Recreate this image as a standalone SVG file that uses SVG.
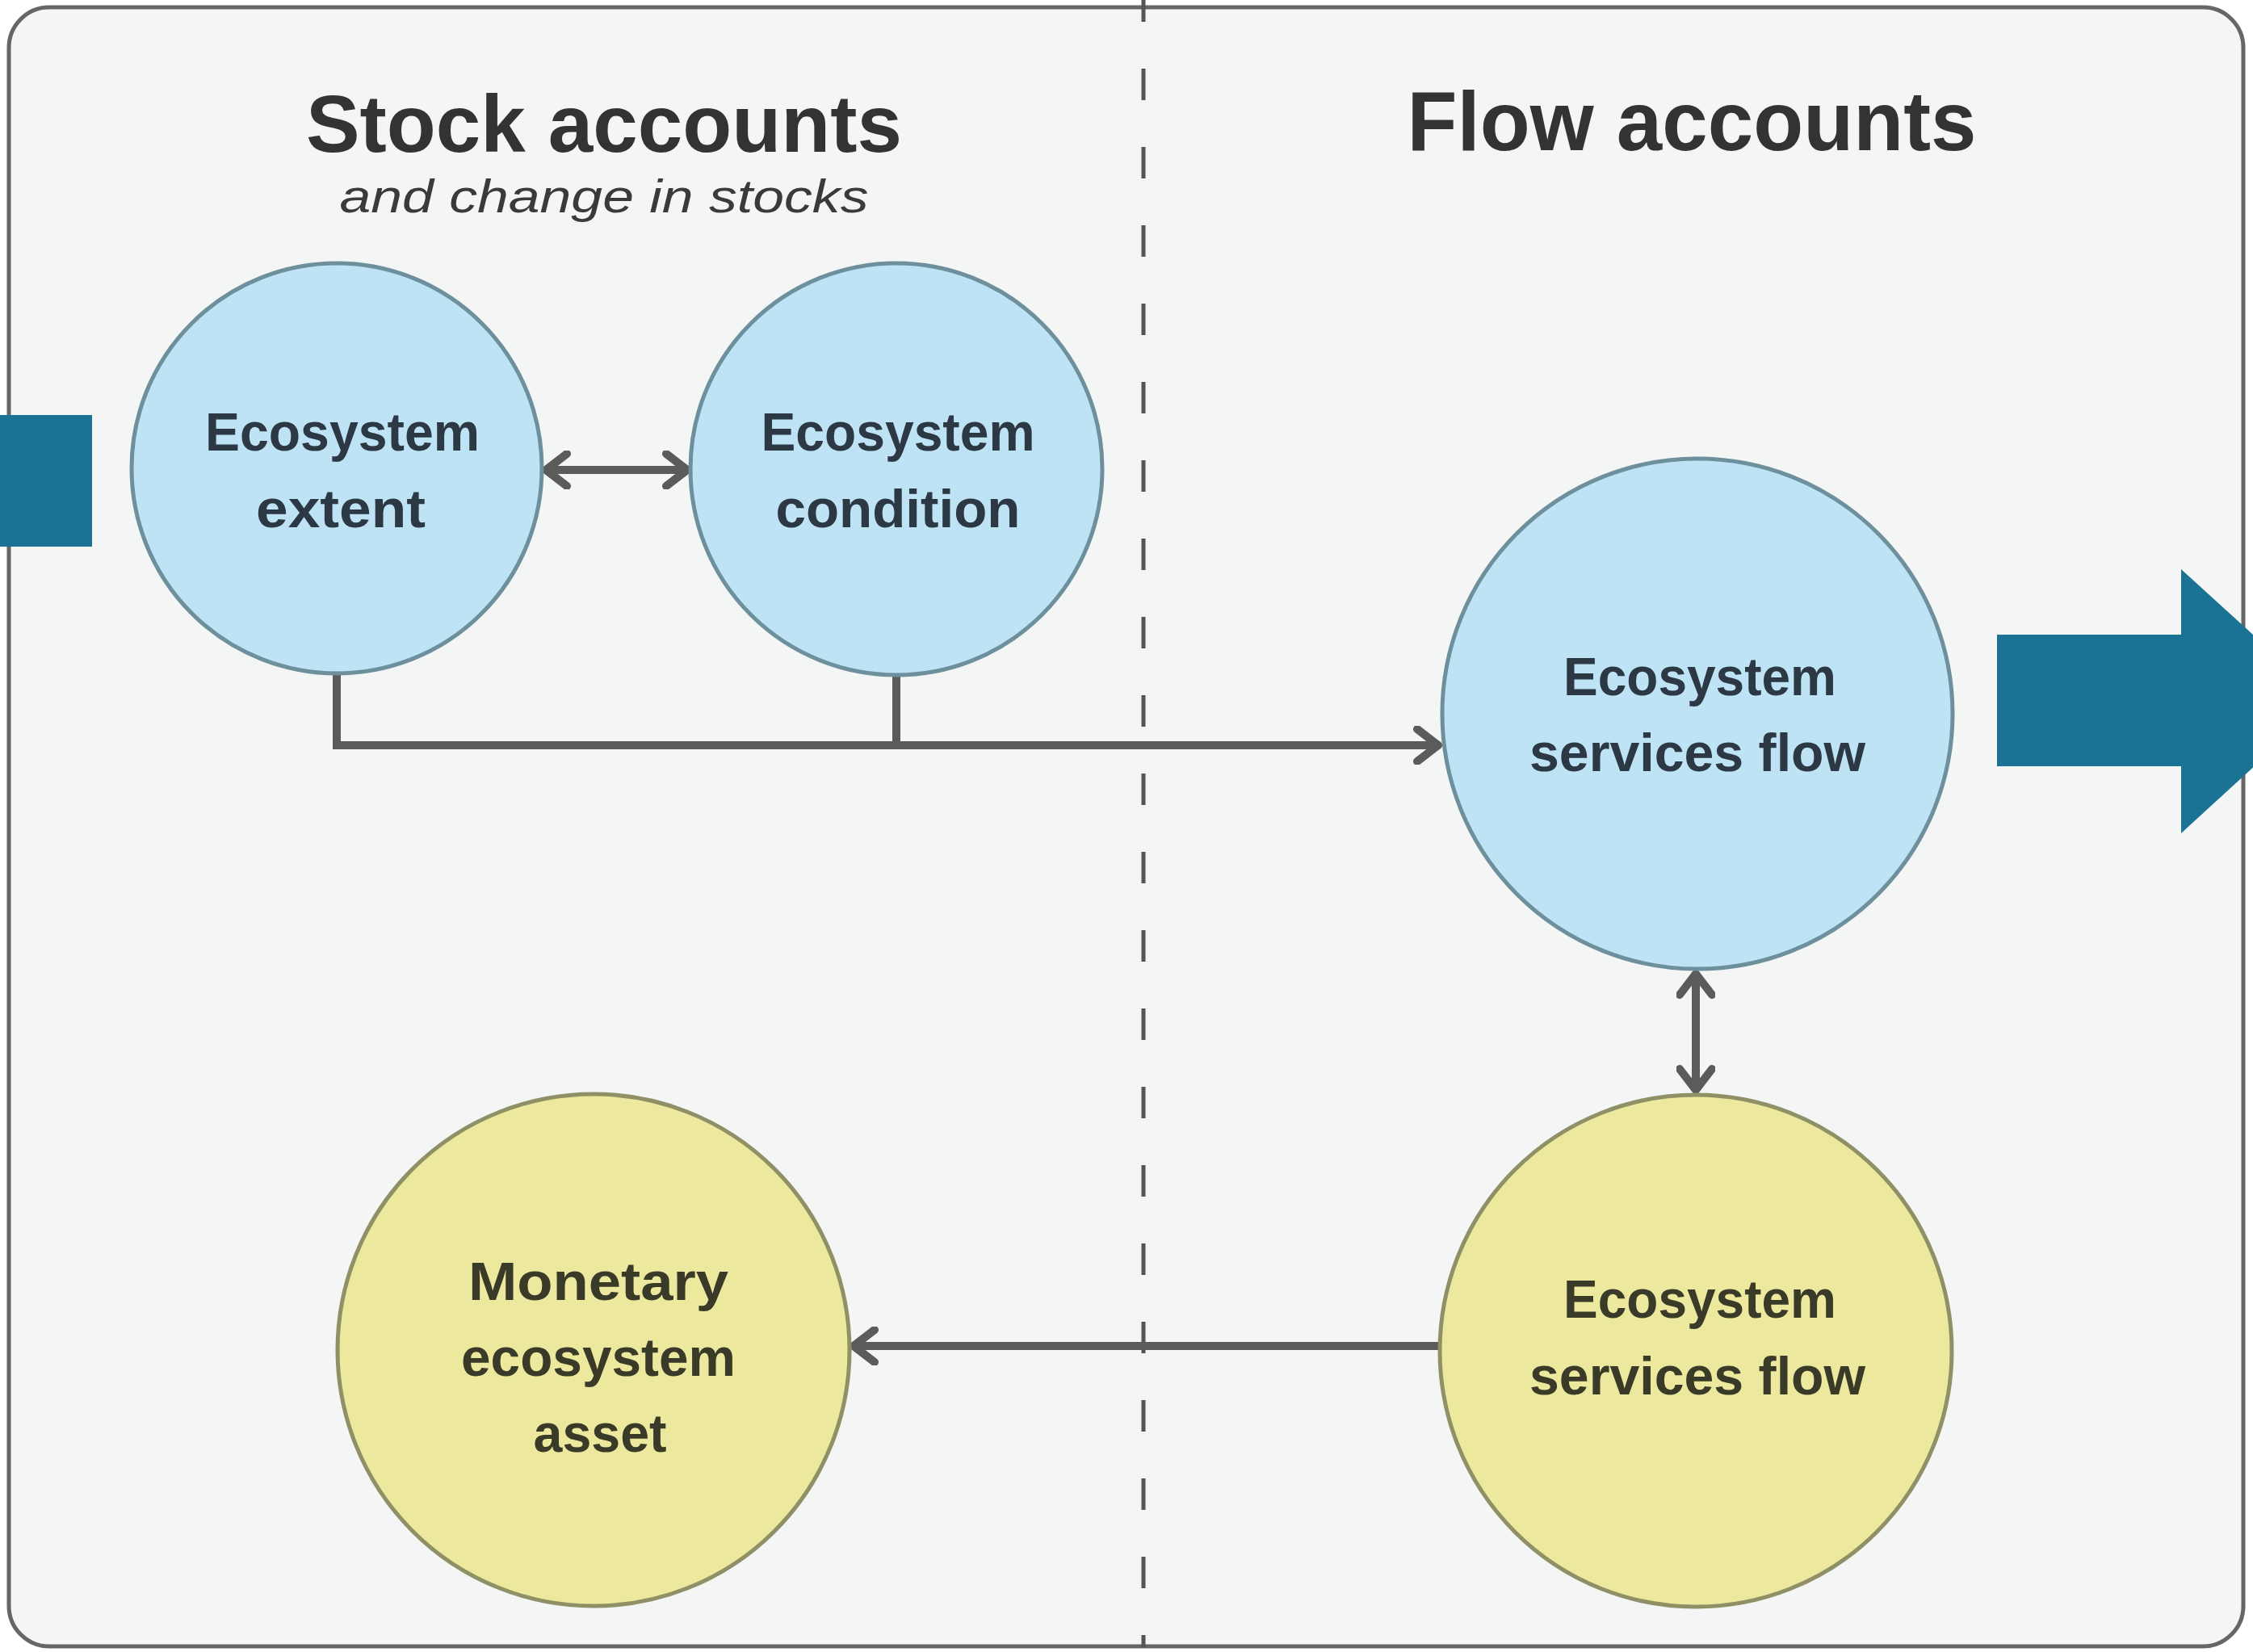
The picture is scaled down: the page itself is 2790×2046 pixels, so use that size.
<svg xmlns="http://www.w3.org/2000/svg" width="2790" height="2046" viewBox="0 0 2790 2046">
<style>
.title{font-family:"Liberation Sans",Arial,sans-serif;font-weight:bold;fill:#333333;text-anchor:middle}
.sub{font-family:"Liberation Sans",Arial,sans-serif;font-style:italic;fill:#3a3a3a;text-anchor:middle}
.lbl{font-family:"Liberation Sans",Arial,sans-serif;font-weight:bold;font-size:66px;text-anchor:middle}
.blue circle{fill:#bde3f5;stroke:#6e8f9c;stroke-width:5}
.blue text{fill:#2c3843}
.yel circle{fill:#ece99f;stroke:#8f9066;stroke-width:5}
.yel text{fill:#3a3a28}
.conn{fill:none;stroke:#5b5b5b;stroke-width:10}
.teal{fill:#1a7394}
</style>
<defs>
<marker id="ah" viewBox="0 0 46 48" refX="40" refY="24" markerWidth="46" markerHeight="48" markerUnits="userSpaceOnUse" orient="auto-start-reverse">
<path d="M12,4 L38,24 L12,44" fill="none" stroke="#5b5b5b" stroke-width="10" stroke-linecap="round" stroke-linejoin="round"/>
</marker>
</defs>
<rect x="0" y="0" width="2790" height="2046" fill="#ffffff"/>
<rect id="frame" x="11" y="9" width="2767" height="2030" rx="50" ry="50" fill="#f4f5f5" stroke="#666666" stroke-width="5"/>
<line id="divider" x1="1416" y1="-12" x2="1416" y2="2040" stroke="#555555" stroke-width="5" stroke-dasharray="39 58"/>
<text class="title" x="748" y="188" font-size="100" textLength="738" lengthAdjust="spacingAndGlyphs">Stock accounts</text>
<text class="sub" x="748" y="263" font-size="58" textLength="655" lengthAdjust="spacingAndGlyphs">and change  in stocks</text>
<text class="title" x="2095" y="186" font-size="104" textLength="705" lengthAdjust="spacingAndGlyphs">Flow accounts</text>
<g id="connectors">
<line class="conn" x1="674" y1="582" x2="853" y2="582" marker-start="url(#ah)" marker-end="url(#ah)"/>
<path class="conn" d="M417,835 V923 H1783" marker-end="url(#ah)"/>
<path class="conn" d="M1110,836 V923"/>
<line class="conn" x1="2100" y1="1204" x2="2100" y2="1352" marker-start="url(#ah)" marker-end="url(#ah)"/>
<line class="conn" x1="1783" y1="1667" x2="1055" y2="1667" marker-end="url(#ah)"/>
</g>
<g id="node-extent" class="blue">
<circle cx="417" cy="580" r="254"/>
<text class="lbl" x="424" y="558" textLength="340" lengthAdjust="spacingAndGlyphs">Ecosystem</text>
<text class="lbl" x="422" y="653" textLength="210" lengthAdjust="spacingAndGlyphs">extent</text>
</g>
<g id="node-condition" class="blue">
<circle cx="1110" cy="581" r="255"/>
<text class="lbl" x="1112" y="558" textLength="339" lengthAdjust="spacingAndGlyphs">Ecosystem</text>
<text class="lbl" x="1112" y="653" textLength="303" lengthAdjust="spacingAndGlyphs">condition</text>
</g>
<g id="node-esf-physical" class="blue">
<circle cx="2102" cy="884" r="316"/>
<text class="lbl" x="2105" y="861" textLength="338" lengthAdjust="spacingAndGlyphs">Ecosystem</text>
<text class="lbl" x="2102" y="955" textLength="416" lengthAdjust="spacingAndGlyphs">services flow</text>
</g>
<g id="node-esf-monetary" class="yel">
<circle cx="2100" cy="1673" r="317"/>
<text class="lbl" x="2105" y="1632" textLength="338" lengthAdjust="spacingAndGlyphs">Ecosystem</text>
<text class="lbl" x="2102" y="1727" textLength="416" lengthAdjust="spacingAndGlyphs">services flow</text>
</g>
<g id="node-monetary-asset" class="yel">
<circle cx="735" cy="1672" r="317"/>
<text class="lbl" x="741" y="1610" textLength="322" lengthAdjust="spacingAndGlyphs">Monetary</text>
<text class="lbl" x="741" y="1704" textLength="340" lengthAdjust="spacingAndGlyphs">ecosystem</text>
<text class="lbl" x="743" y="1798" textLength="165" lengthAdjust="spacingAndGlyphs">asset</text>
</g>
<rect id="teal-left" class="teal" x="0" y="514" width="114" height="163"/>
<polygon id="teal-right-arrow" class="teal" points="2473,786 2701,786 2701,705 2880,868 2701,1032 2701,949 2473,949"/>
</svg>
